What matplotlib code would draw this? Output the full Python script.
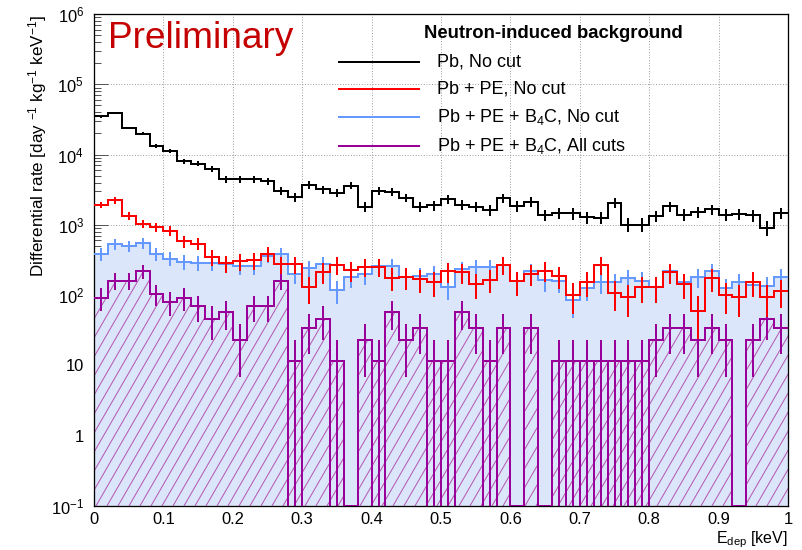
import numpy as np
import matplotlib
matplotlib.use("Agg")
import matplotlib.pyplot as plt
from matplotlib.lines import Line2D
from matplotlib.path import Path
from matplotlib.patches import PathPatch
from matplotlib.collections import LineCollection
from matplotlib.ticker import FixedLocator, FuncFormatter, NullFormatter

# ---------------------------------------------------------------- data
edges = np.linspace(0.0, 1.0, 51)          # E_dep bins [keV], 0.02 keV wide

pb_nocut = [35000, 39100, 23900, 19700, 13400, 11400, 8060, 7380, 6270, 4420,
            4420, 4420, 4140, 3080, 2490, 3720, 3190, 2830, 3630, 1800,
            3080, 2930, 2430, 1800, 1890, 2300, 1920, 1820, 1610, 2420,
            1850, 2130, 1390, 1480, 1460, 1280, 1270, 2070, 1010, 1010,
            1340, 1830, 1400, 1520, 1660, 1400, 1440, 1360, 904, 1490]

pbpe_nocut = [1940, 2230, 1340, 1040, 933, 818, 583, 541, 351, 282,
              303, 314, 390, 275, 275, 129, 215, 272, 226, 255,
              255, 177, 182, 168, 153, 218, 210, 143, 166, 270,
              157, 203, 222, 188, 101, 153, 272, 108, 95, 130,
              130, 212, 143, 60, 174, 102, 94, 153, 94, 116]

pbpeb4c_nocut = [390, 529, 495, 553, 390, 332, 298, 288, 288, 275,
                 258, 258, 360, 390, 200, 245, 277, 118, 182, 198,
                 264, 264, 180, 190, 200, 130, 234, 253, 253, 267,
                 158, 219, 163, 158, 84, 127, 155, 153, 174, 160,
                 130, 217, 153, 182, 219, 127, 153, 140, 136, 182]

# all-cuts spectrum: raw event counts per bin and rate carried by one event
allcuts_counts = [8, 14, 14, 19, 9, 7, 8, 6, 4, 5,
                  2, 6, 6, 14, 1, 3, 4, 1, 0, 2,
                  1, 5, 2, 3, 1, 1, 5, 3, 1, 3,
                  0, 3, 0, 1, 1, 1, 1, 1, 1, 1,
                  2, 3, 3, 2, 3, 2, 0, 2, 4, 3]
allcuts_rate_per_event = 11.5

# rate carried by one simulated event (sets the Poisson error bars)
unit_pb, unit_pbpe, unit_b4c = 50.0, 22.0, 16.0

legend_header = "Neutron-induced background"
labels = ["Pb, No cut", "Pb + PE, No cut",
          "Pb + PE + B$_4$C, No cut", "Pb + PE + B$_4$C, All cuts"]
colors = ["#000000", "#ff0000", "#6699ff", "#990099"]

# ---------------------------------------------------------------- style
plt.rcParams["font.family"] = ["Liberation Sans", "DejaVu Sans"]
plt.rcParams["mathtext.fontset"] = "custom"
plt.rcParams["mathtext.rm"] = "Liberation Sans"
plt.rcParams["mathtext.it"] = "Liberation Sans:italic"
plt.rcParams["mathtext.bf"] = "Liberation Sans:bold"

W, H = 802, 550
fig = plt.figure(figsize=(W / 72, H / 72), dpi=72)
fig.patch.set_facecolor("white")

L, R, T, B = 94, 788, 14, 506
AW, AH = R - L, B - T
ax = fig.add_axes([L / W, 1 - B / H, AW / W, AH / H])
ax.set_yscale("log")
ax.set_xlim(0, 1)
ax.set_ylim(0.1, 1e6)

YMIN = 0.1
FLOOR = 1e-3
centers = 0.5 * (edges[:-1] + edges[1:])


def poisson(vals, unit):
    v = np.asarray(vals, float)
    return v, np.sqrt(v * unit)


v_pb, e_pb = poisson(pb_nocut, unit_pb)
v_pe, e_pe = poisson(pbpe_nocut, unit_pbpe)
v_b4, e_b4 = poisson(pbpeb4c_nocut, unit_b4c)
n_ac = np.asarray(allcuts_counts, float)
v_ac = n_ac * allcuts_rate_per_event
e_ac = np.sqrt(n_ac) * allcuts_rate_per_event

# grid
ax.grid(True, which="major", color="#8c8c8c", linestyle=(0, (1, 2)), linewidth=0.9)
ax.set_axisbelow(True)

# light-blue area under the B4C spectrum
ax.stairs(v_b4, edges, baseline=FLOOR, fill=True, facecolor="#dce6fa",
          edgecolor="none", linewidth=0, zorder=1)

# hatched area under the all-cuts spectrum
v_ac_draw = np.where(v_ac > 0, v_ac, YMIN)
verts = [(edges[0], FLOOR)]
for i, v in enumerate(v_ac_draw):
    verts += [(edges[i], v), (edges[i + 1], v)]
verts += [(edges[-1], FLOOR), (edges[0], FLOOR)]
area = PathPatch(Path(verts, closed=True), transform=ax.transData,
                 facecolor="none", edgecolor="none")
ax.add_patch(area)

HATCH_ANGLE = np.deg2rad(60)
HATCH_STEP = 11.0                      # horizontal spacing in pixels
dx = AH / np.tan(HATCH_ANGLE)          # horizontal run across the full height
starts = np.arange(-dx, AW + HATCH_STEP, HATCH_STEP)
segs = [[(x0 / AW, 0.0), ((x0 + dx) / AW, 1.0)] for x0 in starts]
hatch = LineCollection(segs, transform=ax.transAxes, colors="#b456b4",
                       linewidths=1.0, zorder=2)
ax.add_collection(hatch)
hatch.set_clip_path(area)

LW = 2.0


def draw_hist(v, e, color, z):
    ax.stairs(np.where(v > 0, v, YMIN), edges, baseline=None, color=color,
              linewidth=LW, zorder=z)
    m = v > 0
    lo = np.where(v - e > 0, v - e, FLOOR)
    ax.vlines(centers[m], lo[m], (v + e)[m], color=color, linewidth=LW, zorder=z)


draw_hist(v_b4, e_b4, colors[2], 3)
draw_hist(v_ac, e_ac, colors[3], 4)
# single-event bins are outlined down to the axis
single = np.where(n_ac == 1)[0]
ax.vlines(np.unique(np.concatenate([edges[single], edges[single + 1]])),
          FLOOR, allcuts_rate_per_event, color=colors[3], linewidth=LW, zorder=4)
draw_hist(v_pe, e_pe, colors[1], 5)
draw_hist(v_pb, e_pb, colors[0], 6)

# axes, ticks
for s in ax.spines.values():
    s.set_linewidth(1.3)
    s.set_color("black")
ax.xaxis.set_major_locator(FixedLocator(np.round(np.arange(0, 1.01, 0.1), 2)))
ax.xaxis.set_minor_locator(FixedLocator(np.round(np.arange(0, 1.001, 0.02), 2)))
ax.xaxis.set_major_formatter(FuncFormatter(
    lambda x, p: "0" if x == 0 else ("1" if abs(x - 1) < 1e-9 else f"{x:.1f}")))
ydec = [10.0 ** k for k in range(-1, 7)]
ax.yaxis.set_major_locator(FixedLocator(ydec))
ax.yaxis.set_minor_locator(FixedLocator(
    [m * 10.0 ** k for k in range(-1, 6) for m in range(2, 10)]))
ax.yaxis.set_minor_formatter(NullFormatter())


def yfmt(y, p):
    k = int(round(np.log10(y)))
    if k == 0:
        return "1"
    if k == 1:
        return "10"
    return r"$10^{%d}$" % k


ax.yaxis.set_major_formatter(FuncFormatter(yfmt))
ax.tick_params(axis="both", which="both", direction="in", colors="#555555",
               labelcolor="black", labelsize=16.5, top=False, right=False)
ax.tick_params(axis="x", which="major", length=12, width=1, pad=6)
ax.tick_params(axis="x", which="minor", length=6, width=1)
ax.tick_params(axis="y", which="major", length=14, width=1, pad=10)
ax.tick_params(axis="y", which="minor", length=7, width=1)

# axis titles
fig.text(R / W, 1 - 543 / H, r"E$_{\mathrm{dep}}$ [keV]", ha="right",
         va="baseline", fontsize=16)
fig.text(38 / W, 1 - 15 / H,
         r"Differential rate [day $^{-1}$ kg$^{-1}$ keV$^{-1}$]",
         rotation=90, ha="center", va="top", fontsize=17)

# labels
fig.text(108 / W, 1 - 38 / H, "Preliminary", color="#c40000", fontsize=37,
         ha="left", va="center")
fig.text(553 / W, 1 - 34 / H, legend_header, fontweight="bold", fontsize=18.5,
         ha="center", va="center")
rows = [62, 89, 117, 146]
for lab, col, y in zip(labels, colors, rows):
    fig.add_artist(Line2D([339 / W, 419 / W], [1 - y / H, 1 - y / H],
                          color=col, linewidth=LW, transform=fig.transFigure))
    fig.text(437 / W, 1 - y / H, lab, fontsize=18, ha="left", va="center")

fig.savefig("out.png", dpi=72, facecolor="white")
